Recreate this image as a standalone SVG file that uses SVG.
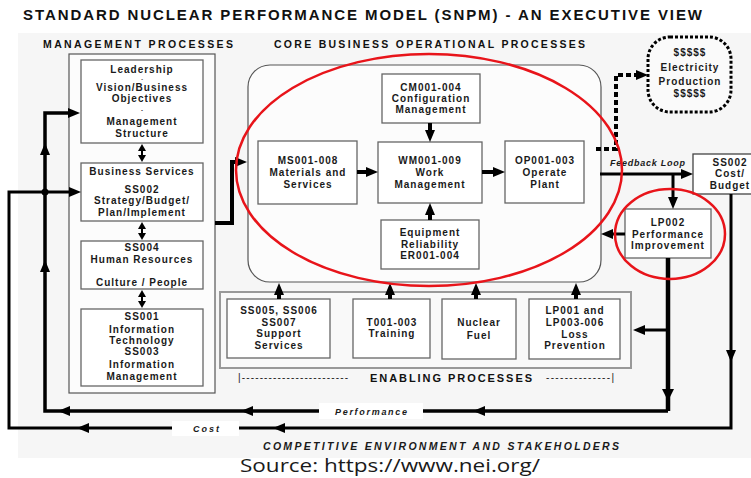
<svg xmlns="http://www.w3.org/2000/svg" width="751" height="478" viewBox="0 0 751 478">
<style>
.bg{fill:#f6f6f6}
.box{fill:#fff;stroke:#666;stroke-width:1.3}
.outer{fill:#fcfcfc;stroke:#555;stroke-width:1.2}
.t{font-family:"Liberation Sans",Arial,sans-serif;font-weight:bold;font-size:10px;letter-spacing:1px;fill:#1a1a1a;text-anchor:middle}
.h{font-family:"Liberation Sans",Arial,sans-serif;font-weight:bold;fill:#111}
.i{font-family:"Liberation Sans",Arial,sans-serif;font-weight:bold;font-style:italic;fill:#1a1a1a}
.d{font-family:"Liberation Sans",Arial,sans-serif;font-size:10px;fill:#1a1a1a}
.ln{fill:none;stroke:#000}
.ah{fill:#000}
.red{fill:none;stroke:#e8141a;stroke-width:2.5}
</style>
<defs>
<marker id="a" markerUnits="userSpaceOnUse" markerWidth="12" markerHeight="10" viewBox="0 0 12 10" refX="2" refY="5" orient="auto"><path d="M0,0 L12,5 L0,10 z" fill="#000"/></marker>
</defs>

<rect class="bg" x="18" y="33" width="733" height="425"/>

<text class="h" x="23" y="19.5" font-size="15" textLength="679" lengthAdjust="spacing">STANDARD NUCLEAR PERFORMANCE MODEL (SNPM) - AN EXECUTIVE VIEW</text>
<text class="h" x="43" y="48" font-size="10.5" textLength="190" lengthAdjust="spacing">MANAGEMENT PROCESSES</text>
<text class="h" x="274" y="48" font-size="10.5" textLength="311" lengthAdjust="spacing">CORE BUSINESS OPERATIONAL PROCESSES</text>

<!-- Management processes -->
<g id="management">
<rect class="outer" x="69" y="54" width="146" height="339"/>
</g>
<g id="leadership">
<rect class="box" x="81" y="60" width="122" height="83"/>
<text class="t"><tspan x="142" y="72.5">Leadership</tspan><tspan x="142" y="80.5" font-size="5" letter-spacing="0">-</tspan><tspan x="142" y="90.5">Vision/Business</tspan><tspan x="142" y="101.5">Objectives</tspan><tspan x="142" y="112" font-size="6" letter-spacing="0">-</tspan><tspan x="142" y="125">Management</tspan><tspan x="142" y="136.5">Structure</tspan></text>
</g>
<g id="business-services">
<rect class="box" x="81" y="163" width="122" height="58"/>
<text class="t" x="142" y="175">Business Services</text>
<text class="t" x="142" y="192.5">SS002</text>
<text class="t" x="142" y="204">Strategy/Budget/</text>
<text class="t" x="142" y="215.5">Plan/Implement</text>
</g>
<g id="human-resources">
<rect class="box" x="81" y="241" width="122" height="48"/>
<text class="t" x="142" y="250.5">SS004</text>
<text class="t" x="142" y="262.5">Human Resources</text>
<text class="t" x="142" y="285.5">Culture / People</text>
</g>
<g id="information">
<rect class="box" x="81" y="309" width="122" height="77"/>
<text class="t" x="142" y="320">SS001</text>
<text class="t" x="142" y="332.5">Information</text>
<text class="t" x="142" y="343.5">Technology</text>
<text class="t" x="142" y="355">SS003</text>
<text class="t" x="142" y="367.5">Information</text>
<text class="t" x="142" y="379.5">Management</text>
</g>

<!-- Core -->
<g id="core">
<rect class="outer" x="248" y="65" width="353" height="217" rx="22" ry="22" stroke="#777"/>
</g>
<g id="cm">
<rect class="box" x="382" y="74" width="98" height="49"/>
<text class="t" x="431" y="90.5">CM001-004</text>
<text class="t" x="431" y="101.5">Configuration</text>
<text class="t" x="431" y="113">Management</text>
</g>
<g id="ms">
<rect class="box" x="258" y="141" width="99" height="63"/>
<text class="t" x="308" y="164">MS001-008</text>
<text class="t" x="308" y="175.5">Materials and</text>
<text class="t" x="308" y="187.5">Services</text>
</g>
<g id="wm">
<rect class="box" x="378" y="142" width="104" height="61"/>
<text class="t" x="430" y="164">WM001-009</text>
<text class="t" x="430" y="175.5">Work</text>
<text class="t" x="430" y="187.5">Management</text>
</g>
<g id="op">
<rect class="box" x="505" y="141" width="79" height="62"/>
<text class="t" x="545" y="164">OP001-003</text>
<text class="t" x="545" y="175.5">Operate</text>
<text class="t" x="545" y="187.5">Plant</text>
</g>
<g id="er">
<rect class="box" x="381" y="220" width="98" height="49"/>
<text class="t" x="430" y="236">Equipment</text>
<text class="t" x="430" y="247.5">Reliability</text>
<text class="t" x="430" y="259">ER001-004</text>
</g>

<!-- Electricity -->
<g id="electricity">
<rect x="648" y="37" width="83" height="75" rx="22" ry="22" fill="#fafafa" stroke="#000" stroke-width="3" stroke-dasharray="3 2"/>
<text class="t" x="690" y="56" letter-spacing="1.8">$$$$$</text>
<text class="t" x="690" y="70.5" letter-spacing="1.7">Electricity</text>
<text class="t" x="690" y="85" letter-spacing="1.9">Production</text>
<text class="t" x="690" y="97" letter-spacing="1.8">$$$$$</text>
</g>

<!-- SS002 Cost/Budget -->
<g id="cost-budget">
<rect x="693" y="154" width="70" height="40" fill="#fff" stroke="#444" stroke-width="1.3"/>
<text class="t" x="730" y="166" letter-spacing="1.5">SS002</text>
<text class="t" x="730" y="177" letter-spacing="1.5">Cost/</text>
<text class="t" x="730" y="188.5" letter-spacing="1.2">Budget</text>
</g>

<!-- LP002 -->
<g id="lp002">
<rect class="box" x="625" y="209" width="86" height="49"/>
<text class="t" x="668" y="226">LP002</text>
<text class="t" x="668" y="238">Performance</text>
<text class="t" x="668" y="248.5">Improvement</text>
</g>

<!-- Enabling -->
<g id="enabling">
<rect x="220" y="292" width="411" height="76" fill="#f9f9f9" stroke="#999" stroke-width="2"/>
<text class="d" x="238" y="381" textLength="110" lengthAdjust="spacing">|------------------------</text>
<text class="h" x="370" y="381.5" font-size="11" textLength="162" lengthAdjust="spacing">ENABLING PROCESSES</text>
<text class="d" x="546" y="381" textLength="68" lengthAdjust="spacing">--------------|</text>
</g>
<g id="support">
<rect class="box" x="227" y="299" width="103" height="59"/>
<text class="t" x="279" y="314">SS005, SS006</text>
<text class="t" x="279" y="325.5">SS007</text>
<text class="t" x="279" y="336.5">Support</text>
<text class="t" x="279" y="349">Services</text>
</g>
<g id="training">
<rect class="box" x="353" y="299" width="77" height="59"/>
<text class="t" x="392" y="326">T001-003</text>
<text class="t" x="392" y="337">Training</text>
</g>
<g id="fuel">
<rect class="box" x="442" y="299" width="74" height="60"/>
<text class="t" x="479" y="325.5" font-size="11" letter-spacing="1.5">Nuclear</text>
<text class="t" x="479" y="339" font-size="11" letter-spacing="1.5">Fuel</text>
</g>
<g id="loss">
<rect class="box" x="529" y="299" width="91" height="60"/>
<text class="t" x="575" y="314">LP001 and</text>
<text class="t" x="575" y="326">LP003-006</text>
<text class="t" x="575" y="337.5">Loss</text>
<text class="t" x="575" y="349">Prevention</text>
</g>

<!-- Connectors -->
<g id="connectors">
<g stroke="#000" stroke-width="2">
<line x1="142" y1="149" x2="142" y2="157"/>
<line x1="142" y1="227" x2="142" y2="235"/>
<line x1="142" y1="295" x2="142" y2="303"/>
</g>
<polygon class="ah" points="142,144 138,151 146,151"/>
<polygon class="ah" points="142,162 138,155 146,155"/>
<polygon class="ah" points="142,222 138,229 146,229"/>
<polygon class="ah" points="142,240 138,233 146,233"/>
<polygon class="ah" points="142,290 138,297 146,297"/>
<polygon class="ah" points="142,308 138,301 146,301"/>

<path class="ln" stroke-width="4" d="M215,223 H232 V162 H237" marker-end="url(#a)"/>
<path class="ln" stroke-width="4" d="M357,172 H368" marker-end="url(#a)"/>
<path class="ln" stroke-width="4" d="M482,172 H495" marker-end="url(#a)"/>
<path class="ln" stroke-width="4" d="M430,123 V132" marker-end="url(#a)"/>
<path class="ln" stroke-width="4" d="M430,220 V213" marker-end="url(#a)"/>
<path class="ln" stroke-width="4" d="M279,299 V293" marker-end="url(#a)"/>
<path class="ln" stroke-width="4" d="M390,299 V293" marker-end="url(#a)"/>
<path class="ln" stroke-width="4" d="M476,299 V293" marker-end="url(#a)"/>
<path class="ln" stroke-width="4" d="M576,299 V293" marker-end="url(#a)"/>

<path class="ln" stroke-width="4" stroke-dasharray="5 3" d="M596,149 H616 V75 H638" marker-end="url(#a)"/>

<path class="ln" stroke-width="3" d="M600,174 H683" marker-end="url(#a)"/>
<path class="ln" stroke-width="3" d="M673,174 V199" marker-end="url(#a)"/>
<path class="ln" stroke-width="3" d="M625,234 H611" marker-end="url(#a)"/>
<path class="ln" stroke-width="3" d="M668,330 H643" marker-end="url(#a)"/>

<path class="ln" stroke-width="4.5" d="M668,258 V411"/>
<path class="ln" stroke-width="3.5" d="M668,411 H45 V113 H70" marker-end="url(#a)"/>
<polygon class="ah" points="662,389 674,389 668,401"/>
<polygon class="ah" points="473,411 485,406 485,416"/>
<polygon class="ah" points="241,411 253,406 253,416"/>
<polygon class="ah" points="58,411 70,406 70,416"/>
<polygon class="ah" points="45,260 40,272 50,272"/>
<polygon class="ah" points="45,143 40,155 50,155"/>
<rect x="319" y="403" width="104" height="16" fill="#fff"/>
<text class="i" x="335" y="414.5" font-size="9" textLength="72" lengthAdjust="spacing">Performance</text>

<path class="ln" stroke-width="3" d="M731,194 V428 H9 V192 H71" marker-end="url(#a)"/>
<polygon class="ah" points="726,350 736,350 731,362"/>
<polygon class="ah" points="273,428 285,423 285,433"/>
<polygon class="ah" points="77,428 89,423 89,433"/>
<circle cx="45" cy="192" r="3.5" fill="#000"/>
<rect x="172" y="421" width="67" height="15" fill="#fff"/>
<text class="i" x="193" y="432" font-size="9" textLength="26" lengthAdjust="spacing">Cost</text>

<text class="i" x="610" y="166" font-size="9" textLength="75" lengthAdjust="spacing">Feedback Loop</text>
</g>

<g id="highlights">
<ellipse class="red" cx="429" cy="170" rx="193" ry="116"/>
<ellipse class="red" cx="670" cy="234" rx="55" ry="45"/>
</g>

<text class="i" x="263" y="450" font-size="10.5" textLength="356" lengthAdjust="spacing">COMPETITIVE ENVIRONMENT AND STAKEHOLDERS</text>
<text x="240" y="472" font-family="'Open Sans','Noto Sans',sans-serif" font-size="19" fill="#1a1a1a" textLength="300" lengthAdjust="spacingAndGlyphs">Source: https://www.nei.org/</text>
</svg>
